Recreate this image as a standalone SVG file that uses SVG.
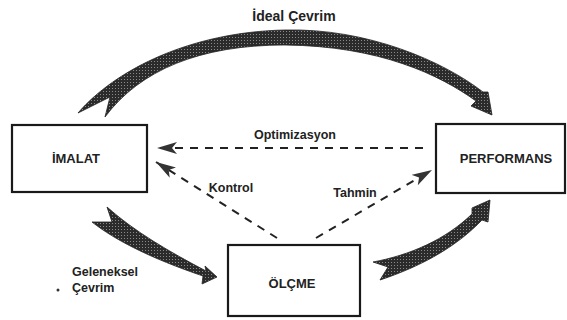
<svg xmlns="http://www.w3.org/2000/svg" width="567" height="320" viewBox="0 0 567 320">
<style>
.box{fill:#fff;stroke:#1a1a1a;stroke-width:2.2}
.nt{font-family:"Liberation Sans",Arial,sans-serif;font-weight:bold;font-size:13px;fill:#222;text-anchor:middle}
.lt{font-family:"Liberation Sans",Arial,sans-serif;font-weight:bold;font-size:12.5px;fill:#222}
.dash{fill:none;stroke:#222;stroke-width:2;stroke-dasharray:8 7}
.big{fill:url(#stip);stroke:#222;stroke-width:0.8}
</style>
<defs>
<pattern id="stip" width="3" height="3" patternUnits="userSpaceOnUse">
<rect width="3" height="3" fill="#2b2b2b"/>
<rect x="1" y="1" width="1" height="1" fill="#8a8a8a"/>
</pattern>
<marker id="ah" viewBox="0 0 20 12" refX="20" refY="6" markerWidth="20" markerHeight="12" markerUnits="userSpaceOnUse" orient="auto">
<path d="M0,0 L20,6 L0,12 L5,6 z" fill="#333"/>
</marker>
</defs>
<g id="connectors">
<path id="ideal" class="big" d="M78,113 C115,70 190,32 285,30 C367,28 443,61 483,92 L488,92 L492,115 L471,106 L476,101 C440,75 380,46 285,45 C200,45 140,70 105,117 L110,97 Z"/>
<path id="geleneksel" class="big" d="M92,222 C115,240 150,258 203,276 L202,284 L217,277 L205,266 L206,271 C170,252 135,232 107,207 L112,222 Z"/>
<path id="olc-perf" class="big" d="M373,262 C410,255 445,240 472,214 L472,208 L490,200 L488,222 L482,220 C458,245 425,265 380,280 L388,267 Z"/>
<path id="optimizasyon" class="dash" d="M423,148 L157,148" marker-end="url(#ah)"/>
<path id="kontrol" class="dash" d="M277,238 L156,162" marker-end="url(#ah)"/>
<path id="tahmin" class="dash" d="M316,238 L432,170" marker-end="url(#ah)"/>
<text class="lt" x="294" y="21" text-anchor="middle" style="font-size:14px">İdeal Çevrim</text>
<text class="lt" x="295" y="139" text-anchor="middle">Optimizasyon</text>
<text class="lt" x="231" y="192" text-anchor="middle">Kontrol</text>
<text class="lt" x="355" y="197" text-anchor="middle">Tahmin</text>
<text class="lt" x="72" y="276">Geleneksel</text>
<text class="lt" x="72" y="292">Çevrim</text>
<circle cx="58" cy="290" r="1.5" fill="#333"/>
</g>
<g id="imalat">
<rect class="box" x="12" y="125" width="135" height="67"/>
<text class="nt" x="76" y="163">İMALAT</text>
</g>
<g id="performans">
<rect class="box" x="436" y="124" width="129" height="69"/>
<text class="nt" x="506" y="163">PERFORMANS</text>
</g>
<g id="olcme">
<rect class="box" x="228" y="245" width="132" height="71"/>
<text class="nt" x="292" y="288">ÖLÇME</text>
</g>
</svg>
